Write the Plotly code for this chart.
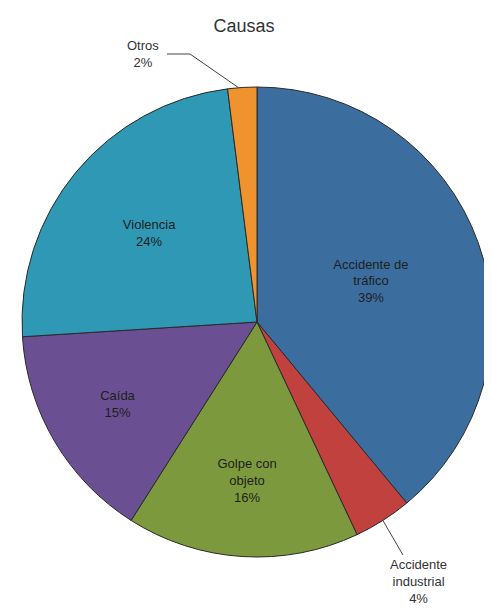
import math
import plotly.graph_objects as go

categories = ["Accidente de tráfico", "Accidente industrial", "Golpe con objeto",
              "Caída", "Violencia", "Otros"]
display_labels = ["Accidente de<br>tráfico", "Accidente<br>industrial", "Golpe con<br>objeto",
                  "Caída", "Violencia", "Otros"]
values = [39, 4, 16, 15, 24, 2]
colors = ["#3B6E9E", "#C0413E", "#7C9A3D", "#6A5093", "#2F98B4", "#EF932F"]
outside = ["Accidente industrial", "Otros"]

OFF = 8  # page body margin
W, H = 492 - OFF, 608 - OFF
cx, cy, R = 257 - OFF, 322 - OFF, 235  # pixels from figure top-left

total = sum(values)
texts = []
for lab, v, c in zip(display_labels, values, categories):
    texts.append("" if c in outside else f"{lab}<br>{round(100 * v / total)}%")

FONT = "Liberation Sans, Arial"
FS = 13

fig = go.Figure(go.Pie(
    labels=categories, values=values, text=texts, textinfo="text",
    sort=False, direction="clockwise", rotation=0,
    marker=dict(colors=colors, line=dict(color="#2a2a2a", width=1)),
    textposition="inside", insidetextorientation="horizontal",
    textfont=dict(family=FONT, size=FS, color="#1e1e1e"),
    domain=dict(x=[(cx - R) / W, min(1, (cx + R) / W)], y=[(H - cy - R) / H, (H - cy + R) / H]),
    hoverinfo="label+percent", showlegend=False,
))

def px2paper(x, y):
    return x / W, (H - y) / H

def edge_point(idx):
    start = sum(values[:idx]) / total
    mid = (start + values[idx] / total / 2) * 2 * math.pi
    return cx + R * math.sin(mid), cy - R * math.cos(mid)

# Accidente industrial
i = categories.index("Accidente industrial")
hx, hy = edge_point(i)
tx, ty = px2paper(hx, hy)
fig.add_annotation(x=tx, y=ty, xref="paper", yref="paper",
                   text=f"{display_labels[i]}<br>{round(100 * values[i] / total)}%",
                   showarrow=True, arrowhead=0, arrowwidth=1, arrowcolor="#444",
                   ax=(418 - OFF) - hx, ay=(581 - OFF) - hy,
                   font=dict(family=FONT, size=FS, color="#333"))

# Otros with bent leader line
j = categories.index("Otros")
ox, oy = edge_point(j)
ax_, ay_ = px2paper(143 - OFF, 54 - OFF)
fig.add_annotation(x=ax_, y=ay_, xref="paper", yref="paper", xanchor="center", yanchor="middle",
                   text=f"{display_labels[j]}<br>{round(100 * values[j] / total)}%",
                   showarrow=False, font=dict(family=FONT, size=FS, color="#333"))
p1 = px2paper(167 - OFF, 54 - OFF)
p2 = px2paper(190 - OFF, 54 - OFF)
p3 = px2paper(ox - 4, oy)
fig.add_shape(type="path", xref="paper", yref="paper",
              path=f"M {p1[0]},{p1[1]} L {p2[0]},{p2[1]} L {p3[0]},{p3[1]}",
              line=dict(color="#444", width=1))

fig.update_layout(
    width=W, height=H,
    margin=dict(l=0, r=0, t=0, b=0),
    paper_bgcolor="white",
    title=dict(text="Causas", x=(244 - OFF) / W, xanchor="center", y=1 - (26 - OFF) / H, yanchor="middle",
               font=dict(family=FONT, size=18, color="#333")),
)

fig.write_html("out.html")
